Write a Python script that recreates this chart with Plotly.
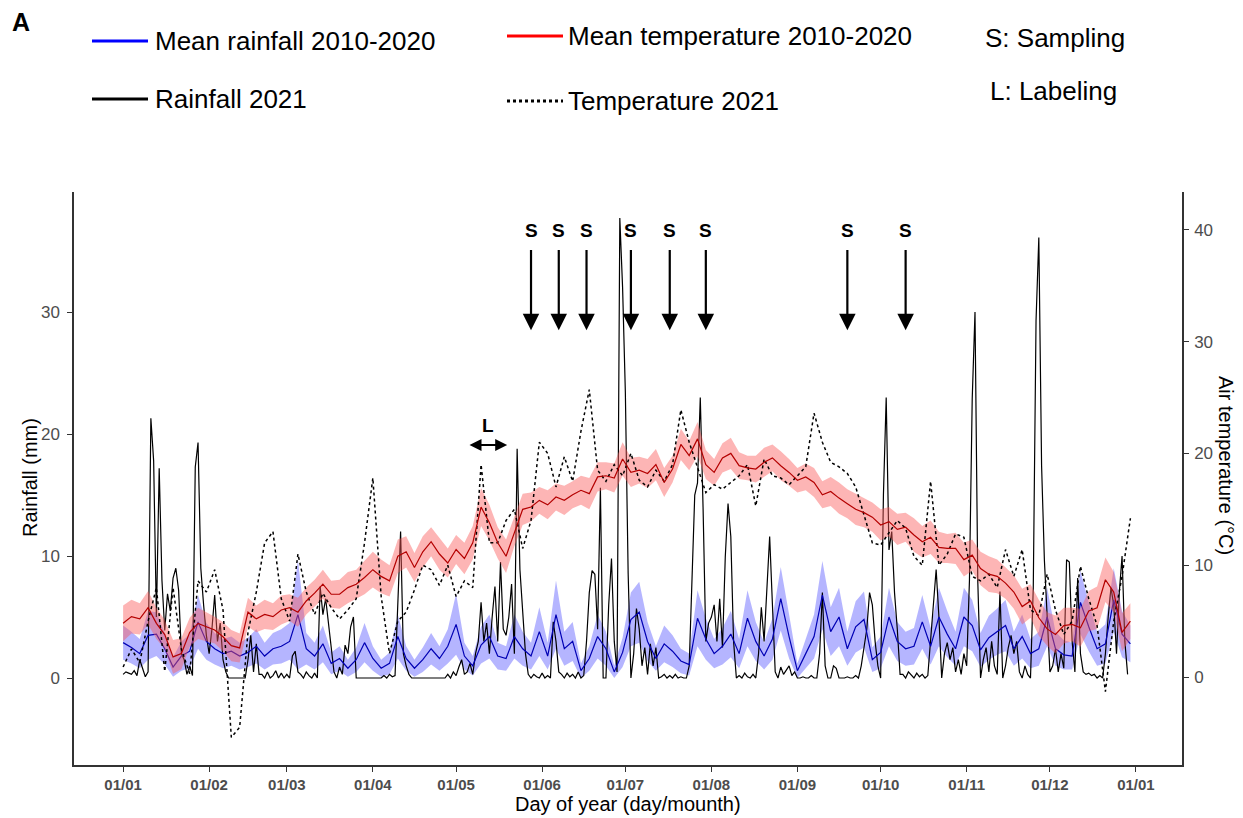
import numpy as np
import pandas as pd
import plotly.graph_objects as go

START = pd.Timestamp("2021-01-01")

# ── Data ──────────────────────────────────────────────────────────────────────
# daily rainfall 2021 (mm), day 0 = 01/01
RAIN_2021 = [
    0.3, 0.5, 0.4, 0.3, 0.6, 0.2, 1.5, 0.8, 0.1, 0.5,
    21.3, 17.8, 5.0, 17.2, 8.0, 3.9, 6.9, 5.5, 8.2, 9.0,
    7.2, 2.0, 1.5, 0.3, 1.0, 0.2, 17.3, 19.3, 9.0, 6.0,
    3.5, 2.0, 4.0, 6.8, 3.0, 4.5, 1.5, 0.5, 0, 0,
    0, 0, 0, 0, 0, 1.5, 3.5, 0.5, 2.8, 0.3,
    0.3, 0, 0.5, 0, 0.2, 0.6, 0, 0.4, 0, 0.3,
    0, 1.8, 2.2, 0.5, 0.3, 0, 0.5, 0.2, 0, 0.4,
    0, 7.5, 5.2, 6.5, 4.5, 2.0, 0.5, 0, 0.9, 0.3,
    2.7, 2.0, 4.2, 5.0, 0, 0, 0, 0, 0, 0,
    0, 0, 0, 0, 0.2, 0, 0.3, 0.1, 0.2, 6.0,
    12.0, 2.0, 1.0, 0.3, 0, 0, 0, 0, 0, 0,
    0, 0, 0, 0, 0, 0, 0, 0.3, 0, 0.5,
    0.2, 0.9, 1.5, 0.3, 0.5, 1.2, 0.3, 2.0, 3.0, 6.2,
    3.0, 4.5, 2.0, 5.0, 7.5, 3.0, 9.5, 4.0, 3.5, 5.0,
    7.7, 2.0, 18.8, 8.9, 5.8, 2.0, 0.3, 0, 0.3, 0.1,
    0, 0.4, 0, 0.2, 0, 4.6, 3.0, 0.5, 0.3, 0,
    0.4, 0.1, 0.3, 0, 0.5, 0, 0.2, 3.0, 7.0, 8.8,
    8.5, 4.0, 15.6, 0, 0, 6.0, 9.8, 3.0, 0.5, 37.7,
    32.0, 23.4, 8.6, 0, 2.0, 5.7, 4.0, 1.0, 2.5, 0.3,
    2.8, 1.0, 2.5, 0, 0.1, 0.3, 0, 0.2, 0, 0.3,
    0, 0.1, 0, 0, 1.0, 8.0, 15.0, 16.0, 23.0, 14.0,
    3.0, 4.5, 5.0, 6.0, 3.0, 6.5, 2.5, 9.9, 14.3, 11.6,
    3.0, 0, 0.2, 0, 0.4, 0.1, 0, 0.3, 0, 2.0,
    5.8, 3.0, 7.0, 11.6, 6.0, 0.5, 0, 0.9, 0.3, 0.6,
    1.0, 0.2, 0.5, 0, 0, 0.1, 0, 0, 0.2, 0,
    0, 2.0, 7.0, 1.0, 0, 0, 1.0, 0.8, 0, 0,
    0, 0.1, 0, 0, 0.2, 0, 1.0, 2.5, 4.0, 7.0,
    6.0, 3.0, 1.0, 0, 15.0, 23.0, 10.5, 12.0, 7.0, 4.0,
    0.3, 0.3, 0, 0.5, 0.2, 0, 0.4, 0.1, 0.3, 0,
    0.2, 3.0, 6.0, 8.9, 5.0, 0, 2.0, 2.9, 1.5, 2.5,
    0.5, 1.5, 0.3, 2.0, 1.0, 8.0, 22.9, 30.0, 8.0, 0,
    1.5, 2.5, 0.5, 3.0, 1.0, 0.3, 7.1, 0, 1.0, 2.5,
    3.5, 2.0, 3.0, 0.5, 0, 1.0, 0.3, 0, 7.4, 29.3,
    36.1, 17.4, 9.7, 5.0, 0.5, 1.0, 2.4, 0.5, 2.0, 0.8,
    9.7, 9.5, 3.0, 0.5, 8.2, 2.0, 0.5, 0.3, 0.4, 0.2,
    0.3, 0, 0.2, 0, 2.0, 5.0, 7.4, 6.0, 2.0, 7.0,
    10.0, 3.0, 0.3,
]

# the other series are read every 3 days
STEP_DAYS = list(range(0, 364, 3))

MEAN_RAIN = [
    2.9, 2.5, 2.0, 3.5, 3.6, 2.4, 0.9, 1.8, 2.2, 4.6,
    3.0, 2.4, 2.0, 2.2, 1.8, 2.1, 2.6, 1.8, 2.4, 2.6,
    3.0, 5.2, 2.4, 1.8, 2.8, 1.2, 1.6, 0.8, 1.5, 2.9,
    1.6, 0.8, 1.2, 3.4, 1.6, 0.8, 1.5, 2.4, 1.6, 2.6,
    4.4, 1.8, 1.0, 2.7, 3.4, 1.8, 1.6, 3.4, 2.4, 1.8,
    3.8, 1.8, 5.2, 2.4, 3.0, 0.6, 1.6, 3.4, 2.4, 0.5,
    2.1, 4.8, 5.4, 3.0, 1.6, 2.8, 2.2, 1.4, 1.1, 4.9,
    3.2, 2.0, 2.6, 3.6, 2.0, 4.9, 3.0, 1.8, 3.2, 6.5,
    3.4, 0.6, 2.0, 3.4, 6.8, 3.8, 5.0, 2.4, 4.2, 4.8,
    1.5, 2.1, 5.0, 3.0, 2.4, 2.6, 4.6, 2.6, 5.0, 3.6,
    2.4, 5.0, 4.3, 2.3, 3.3, 3.8, 4.3, 2.4, 3.4, 2.0,
    2.4, 5.0, 2.4, 1.9, 1.8, 6.2, 4.2, 2.4, 2.8, 6.4,
    3.6, 2.8,
]
MEAN_RAIN_SD = [
    1.4, 1.3, 1.2, 2.0, 1.8, 1.3, 0.8, 1.2, 1.4, 2.2,
    1.5, 1.3, 1.2, 1.2, 1.1, 1.2, 1.4, 1.1, 1.3, 1.4,
    1.5, 4.5, 1.3, 1.1, 1.5, 0.9, 1.0, 0.7, 1.0, 1.6,
    1.0, 0.7, 0.9, 1.8, 1.0, 0.7, 1.0, 1.3, 1.0, 1.4,
    2.5, 1.1, 0.8, 1.5, 1.8, 1.1, 1.0, 1.8, 1.4, 1.1,
    2.0, 1.1, 2.8, 1.4, 1.6, 0.6, 1.0, 1.8, 1.4, 0.5,
    1.2, 2.2, 2.5, 1.6, 1.0, 1.5, 1.3, 1.0, 0.9, 2.3,
    1.7, 1.2, 1.5, 1.9, 1.2, 2.3, 1.6, 1.1, 1.7, 2.6,
    1.8, 0.6, 1.2, 1.8, 2.8, 2.0, 2.4, 1.4, 2.1, 2.3,
    1.0, 1.3, 2.4, 1.6, 1.4, 1.5, 2.2, 1.5, 2.4, 1.9,
    1.4, 2.4, 2.1, 1.4, 1.8, 1.9, 2.1, 1.4, 1.8, 1.2,
    1.4, 2.4, 1.4, 1.2, 1.1, 2.6, 2.0, 1.4, 1.6, 2.6,
    1.9, 1.5,
]

MEAN_TEMP = [
    4.8, 5.4, 5.2, 6.2, 4.8, 3.8, 1.8, 2.1, 4.0, 4.8,
    4.5, 4.2, 3.6, 2.8, 2.6, 5.8, 5.2, 5.6, 5.4, 6.0,
    6.2, 5.8, 6.8, 7.5, 8.3, 7.4, 7.4, 8.0, 8.3, 8.9,
    9.6, 9.0, 8.6, 10.8, 11.2, 9.8, 11.2, 12.1, 11.0, 10.2,
    11.4, 10.6, 12.0, 15.2, 13.8, 12.0, 10.8, 13.0, 15.0, 15.2,
    15.8, 15.4, 16.1, 15.8, 16.3, 16.7, 16.4, 17.9, 18.0, 17.8,
    19.5, 18.3, 18.5, 18.2, 19.0, 17.4, 18.6, 20.8, 19.8, 21.3,
    19.0, 18.3, 19.6, 20.0, 18.9, 18.7, 18.6, 19.2, 19.6, 18.9,
    18.3, 17.6, 17.9, 17.4, 16.3, 16.6, 16.0, 15.5, 15.0, 14.7,
    14.3, 13.6, 13.9, 13.2, 13.4, 12.7, 12.1, 12.5, 11.6, 11.5,
    11.5, 10.5, 10.9, 9.7, 9.2, 9.0, 8.4, 7.6, 6.3, 6.8,
    5.3, 4.3, 3.8, 4.6, 4.7, 4.4, 5.9, 6.2, 8.7, 7.6,
    4.0, 5.0,
]
MEAN_TEMP_SD = [
    1.6, 1.5, 1.4, 1.5, 1.4, 1.3, 1.5, 1.4, 1.3, 1.4,
    1.3, 1.2, 1.3, 1.4, 1.3, 1.3, 1.2, 1.3, 1.2, 1.3,
    1.2, 1.3, 1.2, 1.2, 1.3, 1.2, 1.3, 1.4, 1.3, 1.5,
    1.6, 1.5, 1.4, 1.5, 1.4, 1.3, 1.4, 1.3, 1.4, 1.3,
    1.3, 1.4, 1.5, 1.7, 1.6, 1.4, 1.5, 1.3, 1.4, 1.3,
    1.2, 1.3, 1.2, 1.3, 1.2, 1.3, 1.4, 1.3, 1.2, 1.3,
    1.5, 1.3, 1.2, 1.3, 1.4, 1.3, 1.2, 1.4, 1.3, 1.5,
    1.3, 1.2, 1.3, 1.4, 1.2, 1.1, 1.2, 1.3, 1.2, 1.3,
    1.2, 1.1, 1.2, 1.3, 1.2, 1.3, 1.4, 1.3, 1.4, 1.3,
    1.3, 1.4, 1.3, 1.4, 1.3, 1.5, 1.4, 1.5, 1.4, 1.3,
    1.4, 1.5, 1.4, 1.5, 1.6, 1.5, 1.4, 1.5, 1.6, 1.5,
    1.6, 1.5, 1.7, 1.6, 1.5, 1.7, 1.8, 1.9, 2.0, 1.8,
    1.7, 1.6,
]

TEMP_2021 = [
    0.9, 2.5, 1.3, 5.0, 8.0, 0.5, 8.0, 2.5, 0.3, 8.6,
    7.6, 9.6, 6.0, -5.4, -4.5, 4.0, 7.6, 12.0, 13.0, 7.0,
    5.0, 11.0, 7.6, 5.6, 7.5, 6.2, 5.2, 6.0, 7.0, 12.0,
    17.8, 7.2, 2.1, 5.0, 5.8, 7.8, 10.0, 9.6, 8.2, 10.0,
    7.2, 8.6, 8.0, 19.0, 12.0, 12.0, 14.0, 15.0, 11.5, 14.0,
    21.0, 20.0, 17.0, 19.7, 17.5, 22.0, 25.7, 18.5, 17.5, 19.0,
    18.0, 20.0, 17.6, 17.0, 18.5, 17.5, 19.0, 23.9, 21.0, 18.8,
    16.5, 17.2, 16.8, 17.4, 18.0, 19.0, 15.3, 19.5, 18.0, 17.8,
    17.2, 18.0, 18.8, 23.6, 21.0, 19.2, 18.8, 18.2, 17.0, 14.5,
    12.0, 11.8, 12.9, 14.0, 13.3, 10.8, 10.0, 17.5, 10.0, 11.0,
    12.8, 12.5, 9.0, 8.6, 9.2, 8.0, 11.4, 9.0, 11.4, 6.0,
    5.5, 9.2, 6.0, 3.8, 5.0, 9.9, 7.0, 4.6, -1.3, 5.0,
    9.0, 14.2,
]

SAMPLING_DAYS = [147, 157, 167, 183, 197, 210, 261, 282]
LABELING_DAYS = [124.3, 138.4]
MONTH_TICKS = pd.date_range("2021-01-01", "2022-01-01", freq="MS")

for arr in (MEAN_RAIN, MEAN_RAIN_SD, MEAN_TEMP, MEAN_TEMP_SD, TEMP_2021):
    assert len(arr) == len(STEP_DAYS), len(arr)


def to_date(days):
    return START + pd.to_timedelta(np.asarray(days, dtype=float), unit="D")


# pixel -> paper helpers for the hand-made legend / titles
W, H = 1243, 818
L, R, T, B = 74, 61, 192, 53
PW, PH = W - L - R, H - T - B


def px(x):
    return (x - L) / PW


def py(y):
    return (H - B - y) / PH


FONT = "Liberation Sans, Arial, sans-serif"

# ── Figure ────────────────────────────────────────────────────────────────────
fig = go.Figure()

x3 = to_date(STEP_DAYS)
mt, mts = np.array(MEAN_TEMP), np.array(MEAN_TEMP_SD)
mr, mrs = np.array(MEAN_RAIN), np.array(MEAN_RAIN_SD)

fig.add_trace(go.Scatter(x=x3, y=mt + mts, yaxis="y2", mode="lines",
                         line=dict(width=0), hoverinfo="skip"))
fig.add_trace(go.Scatter(x=x3, y=mt - mts, yaxis="y2", mode="lines",
                         line=dict(width=0), fill="tonexty",
                         fillcolor="rgba(250,90,90,0.45)", hoverinfo="skip"))
fig.add_trace(go.Scatter(x=x3, y=mr + mrs, mode="lines",
                         line=dict(width=0), hoverinfo="skip"))
fig.add_trace(go.Scatter(x=x3, y=np.clip(mr - mrs, 0, None), mode="lines",
                         line=dict(width=0), fill="tonexty",
                         fillcolor="rgba(90,90,255,0.45)", hoverinfo="skip"))

fig.add_trace(go.Scatter(x=to_date(range(len(RAIN_2021))), y=RAIN_2021,
                         mode="lines", name="Rainfall 2021",
                         line=dict(color="black", width=1.2)))
fig.add_trace(go.Scatter(x=x3, y=TEMP_2021, yaxis="y2", mode="lines",
                         name="Temperature 2021",
                         line=dict(color="black", width=1.5, dash="dot")))
fig.add_trace(go.Scatter(x=x3, y=MEAN_TEMP, yaxis="y2", mode="lines",
                         name="Mean temperature 2010-2020",
                         line=dict(color="#b40000", width=1.2)))
fig.add_trace(go.Scatter(x=x3, y=MEAN_RAIN, mode="lines",
                         name="Mean rainfall 2010-2020",
                         line=dict(color="#0000b4", width=1.2)))

# sampling arrows
for d in SAMPLING_DAYS:
    xd = to_date([d])[0]
    fig.add_annotation(x=xd, y=28.5, ax=xd, ay=35.2, axref="x", ayref="y",
                       text="", showarrow=True, arrowhead=2, arrowsize=1.5,
                       arrowwidth=2.2, arrowcolor="black")
    fig.add_annotation(x=xd, y=36.7, text="<b>S</b>", showarrow=False,
                       xanchor="center", yanchor="middle",
                       font=dict(size=19, family=FONT, color="black"))

# labeling window
l0, l1 = to_date(LABELING_DAYS)
fig.add_annotation(x=l1, y=19.1, ax=l0, ay=19.1, axref="x", ayref="y",
                   text="", showarrow=True, arrowhead=2, arrowside="end+start",
                   arrowsize=1.2, arrowwidth=2, arrowcolor="black")
fig.add_annotation(x=to_date([np.mean(LABELING_DAYS)])[0], y=20.7,
                   text="<b>L</b>", showarrow=False,
                   xanchor="center", yanchor="middle",
                   font=dict(size=19, family=FONT, color="black"))

# hand-made legend
legend_lines = [
    (92, 148, 41, "#0000ff", "solid"),
    (507, 563, 36, "#ff0000", "solid"),
    (92, 148, 99, "black", "solid"),
    (507, 563, 101, "black", "dot"),
]
for x0, x1, yy, col, dash in legend_lines:
    fig.add_shape(type="line", xref="paper", yref="paper",
                  x0=px(x0), x1=px(x1), y0=py(yy), y1=py(yy),
                  line=dict(color=col, width=3, dash=dash))

legend_texts = [
    (153, 41, "Mean rainfall 2010-2020"),
    (566, 36, "Mean temperature 2010-2020"),
    (153, 99, "Rainfall 2021"),
    (566, 101, "Temperature 2021"),
    (983, 38, "S: Sampling"),
    (988, 91, "L: Labeling"),
]
for xx, yy, txt in legend_texts:
    fig.add_annotation(xref="paper", yref="paper", x=px(xx), y=py(yy),
                       xanchor="left", yanchor="middle", text=txt,
                       showarrow=False,
                       font=dict(size=26, family=FONT, color="black"))

fig.add_annotation(xref="paper", yref="paper", x=px(21), y=py(22),
                   xanchor="center", yanchor="middle",
                   text="<b>A</b>", showarrow=False,
                   font=dict(size=25, family=FONT, color="black"))

# axis titles
fig.add_annotation(xref="paper", yref="paper", x=px(628), y=py(804),
                   xanchor="center", yanchor="middle",
                   text="Day of year (day/mounth)", showarrow=False,
                   font=dict(size=20, family=FONT, color="black"))
fig.add_annotation(xref="paper", yref="paper", x=px(30), y=py(478),
                   xanchor="center", yanchor="middle",
                   text="Rainfall (mm)", textangle=-90, showarrow=False,
                   font=dict(size=20, family=FONT, color="black"))
fig.add_annotation(xref="paper", yref="paper", x=px(1226), y=py(465),
                   xanchor="center", yanchor="middle",
                   text="Air temperature (°C)", textangle=90, showarrow=False,
                   font=dict(size=20, family=FONT, color="black"))

axis_common = dict(showline=True, linecolor="#333", linewidth=1.5,
                   ticks="outside", ticklen=5, tickcolor="#333", tickwidth=1.2,
                   showgrid=False, zeroline=False)

fig.update_layout(
    width=W, height=H,
    margin=dict(l=L, r=R, t=T, b=B),
    plot_bgcolor="white", paper_bgcolor="white",
    showlegend=False,
    font=dict(family=FONT, color="black"),
    xaxis=dict(type="date", range=[to_date([-17.7])[0], to_date([381.6])[0]],
               tickvals=MONTH_TICKS, tickformat="%d/%m",
               tickfont=dict(size=15, color="#4d4d4d", weight="bold"),
               **axis_common),
    yaxis=dict(range=[-7.13, 39.84], tickvals=[0, 10, 20, 30],
               ticklabelstandoff=4,
               tickfont=dict(size=17, color="#4d4d4d"), **axis_common),
    yaxis2=dict(range=[-7.87, 43.38], tickvals=[0, 10, 20, 30, 40],
                overlaying="y", side="right", ticklabelstandoff=2,
                tickfont=dict(size=17, color="#4d4d4d"), **axis_common),
)

fig.write_html("out.html", config={"displayModeBar": False},
               post_script="document.body.style.margin='0';")
